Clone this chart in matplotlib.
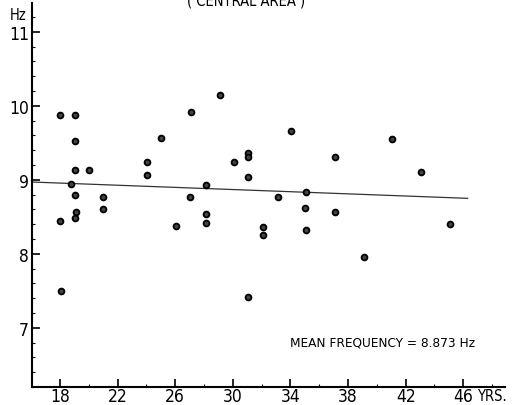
import matplotlib
matplotlib.use("Agg")
import matplotlib.pyplot as plt
from matplotlib.ticker import MultipleLocator
from matplotlib import font_manager

# ---- data ----
age = [18.0, 19.07, 25.0, 27.07, 29.08,
       19.02, 19.07, 20.04, 18.74, 19.07, 21.0, 21.0, 19.09, 19.07, 18.0,
       24.03, 24.07, 26.05, 27.02, 28.13, 28.13, 28.13, 30.08, 31.08, 31.08, 31.03,
       18.07, 31.06,
       34.05, 41.07, 37.08, 43.04, 35.09, 33.12, 35.04, 37.08, 32.12, 32.1, 35.09, 45.08, 39.1]
freq = [9.88, 9.88, 9.57, 9.92, 10.15,
        9.52, 9.13, 9.13, 8.95, 8.80, 8.77, 8.61, 8.56, 8.48, 8.45,
        9.24, 9.07, 8.37, 8.77, 8.93, 8.54, 8.41, 9.24, 9.36, 9.31, 9.04,
        7.50, 7.41,
        9.66, 9.55, 9.31, 9.11, 8.83, 8.77, 8.62, 8.56, 8.36, 8.25, 8.32, 8.40, 7.96]
fit_x = [16.1, 46.3]
fit_y = [8.97, 8.75]
x_ticks = [18, 22, 26, 30, 34, 38, 42, 46]
x_labels = ["18", "22", "26", "30", "34", "38", "42", "46"]
y_ticks = [7, 8, 9, 10, 11]
y_labels = ["7", "8", "9", "10", "11"]

cond = any(f.name == "DejaVu Sans" and f.stretch == "condensed"
           for f in font_manager.fontManager.ttflist)
plt.rcParams['font.family'] = ['DejaVu Sans']
if cond:
    plt.rcParams['font.stretch'] = 'condensed'
    sz_small, sz_tick, sz_mean = 10.5, 12.5, 9.7
else:
    sz_small, sz_tick, sz_mean = 8.8, 11, 8.6

fig = plt.figure(figsize=(5.14, 4.06), dpi=100)
ax = fig.add_axes([32/514, 18/406, (505-32)/514, (388-4)/406])
ax.set_xlim(16.05, 48.9)
ax.set_ylim(6.2, 11.39)

ax.plot(fit_x, fit_y, color='#333333', lw=0.9, zorder=2)
ax.plot(age, freq, 'o', ms=4.2, mfc='#444444', mec='black', mew=1.3, zorder=3)

for s in ['top', 'right']:
    ax.spines[s].set_visible(False)
for s in ['left', 'bottom']:
    ax.spines[s].set_linewidth(1.5)

ax.set_xticks(x_ticks)
ax.set_xticklabels(x_labels)
ax.set_yticks(y_ticks)
ax.set_yticklabels(y_labels)
ax.xaxis.set_minor_locator(MultipleLocator(2))
ax.yaxis.set_minor_locator(MultipleLocator(0.2))
ax.tick_params(axis='both', which='major', direction='in', length=6, width=1.2,
               labelsize=sz_tick, pad=2)
ax.tick_params(axis='both', which='minor', direction='in', length=2, width=0.8)
ax.tick_params(axis='x', which='major', pad=0)

fig.text(10/514, 1 - 15/406, "Hz", fontsize=sz_small, va='center', ha='left')
fig.text(477/514, 1 - 397/406, "YRS.", fontsize=sz_small, va='center', ha='left')
fig.text(246/514, 1 - 1/406, "( CENTRAL AREA )", fontsize=sz_small,
         va='center', ha='center')
fig.text(290/514, 1 - 343/406, "MEAN FREQUENCY = 8.873 Hz", fontsize=sz_mean,
         va='center', ha='left')

fig.savefig("out.png", dpi=100)
